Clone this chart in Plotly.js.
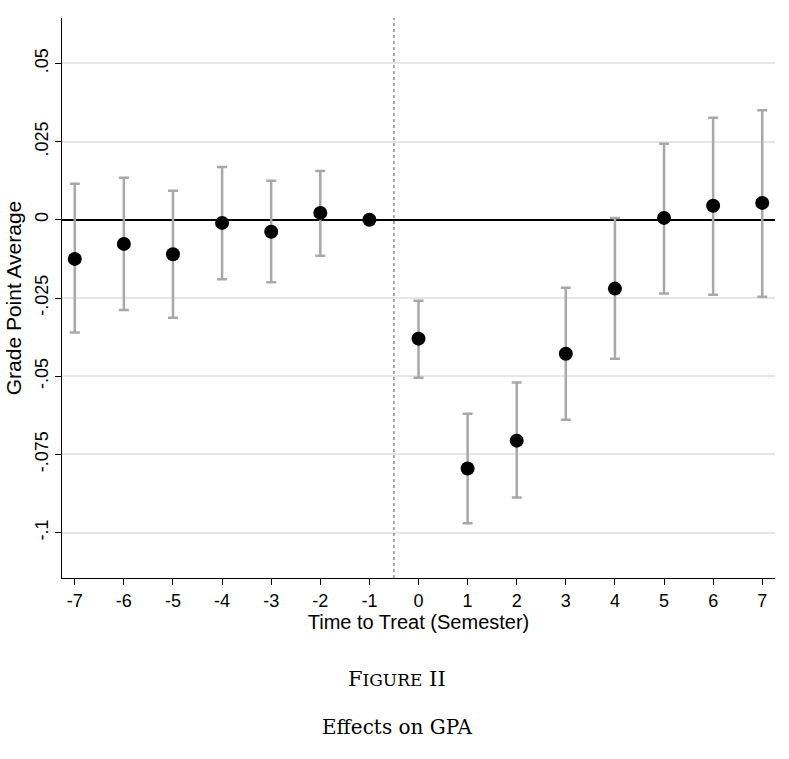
<!DOCTYPE html>
<html>
<head>
<script src="https://cdn.plot.ly/plotly-3.0.1.min.js"></script>
<style>body{margin:0;background:#fff}</style>
</head>
<body>
<div id="chart" style="width:789px;height:759px"></div>
<script>
const periods = [-7, -6, -5, -4, -3, -2, -1, 0, 1, 2, 3, 4, 5, 6, 7];
const periodText = ["-7", "-6", "-5", "-4", "-3", "-2", "-1", "0", "1", "2", "3", "4", "5", "6", "7"];
const estimates = [-0.0125, -0.0077, -0.011, -0.001, -0.0038, 0.0022, 0, -0.038, -0.0795, -0.0706, -0.0428, -0.022, 0.0006, 0.0045, 0.0054];
const ciHigh = [0.0115, 0.0134, 0.0093, 0.0169, 0.0125, 0.0156, null, -0.0259, -0.062, -0.052, -0.0217, 0.0006, 0.0243, 0.0326, 0.035];
const ciLow = [-0.036, -0.0288, -0.0313, -0.019, -0.020, -0.0115, null, -0.0505, -0.097, -0.0888, -0.0639, -0.0444, -0.0236, -0.024, -0.0246];
const yTicks = [0.05, 0.025, 0, -0.025, -0.05, -0.075, -0.1];
const yTickText = [".05", ".025", "0", "-.025", "-.05", "-.075", "-.1"];

const errPlus = estimates.map((e, i) => ciHigh[i] === null ? 0 : ciHigh[i] - e);
const errMinus = estimates.map((e, i) => ciLow[i] === null ? 0 : e - ciLow[i]);

const traces = [
  {
    x: periods,
    y: estimates,
    type: "scatter",
    mode: "markers",
    marker: { color: "#000", size: 14 },
    error_y: {
      type: "data",
      symmetric: false,
      array: errPlus,
      arrayminus: errMinus,
      color: "#a8a8a8",
      thickness: 2.5,
      width: 5
    },
    showlegend: false
  }
];

const layout = {
  width: 789,
  height: 759,
  margin: { l: 62, r: 14, t: 18, b: 181 },
  paper_bgcolor: "#fff",
  plot_bgcolor: "#fff",
  font: { family: "Liberation Sans, Arial, sans-serif", color: "#000" },
  xaxis: {
    range: [-7.26, 7.26],
    tickvals: periods,
    ticktext: periodText,
    ticks: "outside",
    ticklen: 6,
    tickcolor: "#000",
    showgrid: false,
    zeroline: false,
    showline: true,
    linecolor: "#000",
    tickfont: { size: 18 },
    title: { text: "Time to Treat (Semester)", font: { size: 20 }, standoff: 2 }
  },
  yaxis: {
    range: [-0.1145, 0.0645],
    tickvals: yTicks,
    ticktext: yTickText,
    tickangle: -90,
    ticks: "outside",
    ticklen: 6,
    tickcolor: "#000",
    showgrid: true,
    gridcolor: "#e6e6e6",
    gridwidth: 2,
    zeroline: true,
    zerolinecolor: "#000",
    zerolinewidth: 1.5,
    showline: true,
    linecolor: "#000",
    tickfont: { size: 18 },
    title: { text: "Grade Point Average", font: { size: 21 }, standoff: 4 }
  },
  shapes: [
    {
      type: "line", xref: "x", yref: "paper",
      x0: -0.5, x1: -0.5, y0: 0, y1: 1,
      line: { color: "#555", width: 1, dash: "dot" }
    }
  ],
  annotations: [
    {
      text: "F<span style='font-size:17px'>IGURE</span> II",
      xref: "paper", yref: "paper", x: 0.47, y: -0.205,
      showarrow: false,
      font: { family: "DejaVu Serif, serif", size: 21 }
    },
    {
      text: "Effects on GPA",
      xref: "paper", yref: "paper", x: 0.47, y: -0.291,
      showarrow: false,
      font: { family: "DejaVu Serif, serif", size: 20 }
    }
  ]
};

Plotly.newPlot("chart", traces, layout, { displayModeBar: false, staticPlot: true });
</script>
</body>
</html>
